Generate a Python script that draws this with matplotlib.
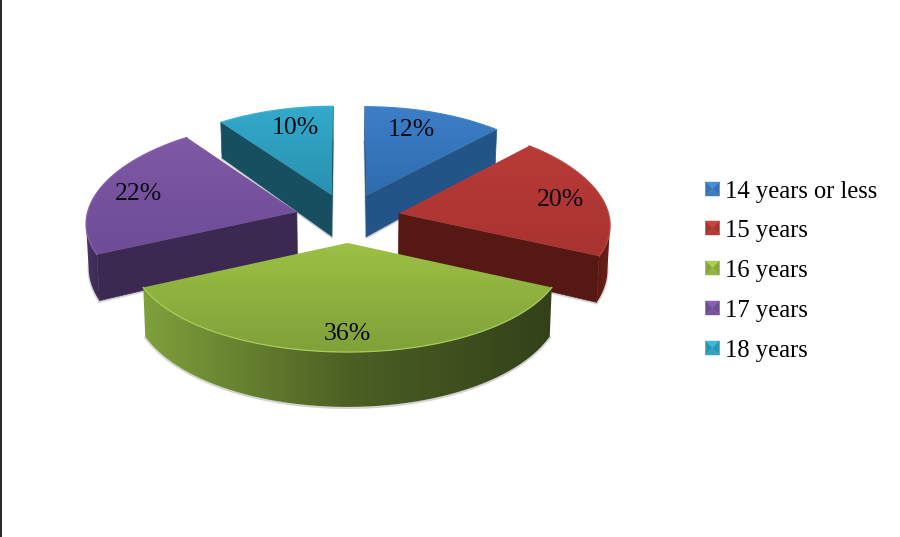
#!/usr/bin/env python3

import numpy as np
import matplotlib
import matplotlib.pyplot as plt
from matplotlib.colors import to_rgb, LinearSegmentedColormap
from matplotlib.patches import Polygon
matplotlib.use('Agg')

# chart data
categories = ['14 years or less', '15 years', '16 years', '17 years', '18 years']
shares = [12, 20, 36, 22, 10]

# colours per slice: top face (back, front), cut face, outer wall (left, mid, right), rim
top_back = ['#3c7ec8', '#b93b37', '#9cc144', '#7f58a6', '#33aacb']
top_front = ['#2f6cae', '#a83331', '#80a03a', '#6e4c96', '#2a90b0']
cut_col = ['#235487', '#551813', '#4c6024', '#3c2952', '#174f60']
wall_left = ['#2a5f98', '#5a1a14', '#80a03c', '#4a3267', '#1d6075']
wall_mid = ['#2a5f98', '#641e18', '#4c6024', '#40305a', '#1d6075']
wall_right = ['#2a5f98', '#6a201a', '#33411a', '#3c2952', '#1d6075']
rim_col = ['#4584cc', '#bd433f', '#a9cc58', '#8560ab', '#3fb2d0']
legend_col = ['#3f80c8', '#b93c38', '#98bb45', '#7c57a4', '#33a8c8']

# where the labels sit, in pixels
label_x = [411, 561, 347, 138, 295]
label_y = [129, 198, 333, 193, 127]
legend_y = [190, 229, 269, 309, 349]

# projection of the tilted pie
CX, CY = 347.5, 218
RX, RY = 210.5, 98
PERSP_X = 0.10
PERSP_Y = 0.069
EXPLODE = 0.25
DEPTH = 43


def project(u, v, drop=0.0):
    fx = 1 / (1 + PERSP_X * v)
    fy = 1 / (1 + PERSP_Y * v)
    return CX + RX * u * fx * (1 - 0.00023 * drop), CY - RY * v * fy + drop * fy ** 2.7


def gradient_fill(ax, xs, ys, colours, zorder, horizontal=False):
    cmap = LinearSegmentedColormap.from_list('g', [to_rgb(c) for c in colours])
    grad = np.linspace(0, 1, 256).reshape(-1, 1)
    if horizontal:
        grad = grad.T
    im = ax.imshow(grad, cmap=cmap, aspect='auto', zorder=zorder,
                   extent=[min(xs), max(xs), max(ys), min(ys)])
    poly = Polygon(np.column_stack([xs, ys]), closed=True, transform=ax.transData,
                   fc='none', ec='none')
    ax.add_patch(poly)
    im.set_clip_path(poly)


fig = plt.figure(figsize=(9, 5.37), dpi=100)
ax = fig.add_axes([0, 0, 1, 1])
ax.set_xlim(0, 900)
ax.set_ylim(537, 0)
ax.axis('off')

# left edge of the slide
ax.plot([0.6, 0.6], [0, 537], color='black', lw=1.2, zorder=1, clip_on=False)

# slice angles, clockwise from twelve o'clock
edges = np.cumsum([0] + shares) / sum(shares) * 2 * np.pi

# back slices first
mids = (edges[:-1] + edges[1:]) / 2
order = np.argsort(-np.cos(mids))

z = 2
for i in order:
    a0, a1 = edges[i], edges[i + 1]
    du, dv = EXPLODE * np.sin(mids[i]), EXPLODE * np.cos(mids[i])
    t = np.linspace(a0, a1, 160)
    rim_x, rim_y = project(du + np.sin(t), dv + np.cos(t))
    low_x, low_y = project(du + np.sin(t), dv + np.cos(t), DEPTH)
    apex_x, apex_y = project(du, dv)
    apex_lx, apex_ly = project(du, dv, DEPTH)

    # soft grey shadow round the underside
    ax.plot(np.r_[low_x, apex_lx, low_x[0]], np.r_[low_y, apex_ly, low_y[0]] + 1,
            color='#d4d4d4', lw=1.6, zorder=z)

    # the slices whose edge runs straight back leave a grey sliver beside them
    if abs(rim_x[0] - apex_x) < 1:
        ax.plot([apex_x - 1.5] * 2, [(rim_y[0] + apex_y) / 2, apex_ly], color='#b4b4b4', lw=1.2, zorder=z)
    if abs(rim_x[-1] - apex_x) < 1:
        ax.plot([apex_x + 1.5] * 2, [(rim_y[-1] + apex_y) / 2, apex_ly], color='#b4b4b4', lw=1.2, zorder=z)
    z += 1

    # radial cut faces, only the ones turned to the viewer
    if rim_x[0] < apex_x:
        ax.fill([apex_x, rim_x[0], low_x[0], apex_lx], [apex_y, rim_y[0], low_y[0], apex_ly],
                color=cut_col[i], lw=0.5, zorder=z)
    if rim_x[-1] > apex_x:
        ax.fill([apex_x, rim_x[-1], low_x[-1], apex_lx], [apex_y, rim_y[-1], low_y[-1], apex_ly],
                color=cut_col[i], lw=0.5, zorder=z)
    z += 1

    # outer wall, only where the arc runs right to left on screen
    vis = np.where(np.diff(rim_x) < 0)[0]
    if len(vis) > 1:
        idx = np.r_[vis, vis[-1] + 1]
        gradient_fill(ax, np.r_[rim_x[idx], low_x[idx][::-1]], np.r_[rim_y[idx], low_y[idx][::-1]],
                      [wall_left[i], wall_mid[i], wall_right[i]], z, horizontal=True)
    z += 1

    # top face with its soft gradient and a light rim
    gradient_fill(ax, np.r_[apex_x, rim_x], np.r_[apex_y, rim_y], [top_back[i], top_front[i]], z)
    ax.plot(rim_x, rim_y, color=rim_col[i], lw=0.9, zorder=z + 1)
    z += 2

# percent labels
for i, val in enumerate(shares):
    ax.text(label_x[i], label_y[i] + 1.5, f'{val}%', family='Liberation Serif', fontsize=18.5,
            color='#0a0a14', ha='center', va='center', zorder=z)

# legend with small bevelled keys
SIZE = 14
for i, name in enumerate(categories):
    y = legend_y[i]
    x0, x1 = 705.5, 705.5 + SIZE
    y0, y1 = y - SIZE / 2 - 1, y + SIZE / 2 - 1
    xc, yc = (x0 + x1) / 2, (y0 + y1) / 2
    base = np.array(to_rgb(legend_col[i]))
    ax.fill([x0, x1, xc], [y0, y0, yc], color=tuple(np.minimum(base * 1.12, 1)), lw=0.3, zorder=z)
    ax.fill([x0, xc, x0], [y0, yc, y1], color=tuple(base * 0.88), lw=0.3, zorder=z)
    ax.fill([x1, xc, x1], [y0, yc, y1], color=tuple(base * 0.88), lw=0.3, zorder=z)
    ax.fill([x0, x1, xc], [y1, y1, yc], color=tuple(base * 0.97), lw=0.3, zorder=z)
    ax.text(725, y + 2, name, family='Liberation Serif', fontsize=17.7, color='black',
            ha='left', va='center', zorder=z)

ax.set_xlim(0, 900)
ax.set_ylim(537, 0)
fig.savefig('out.png', dpi=100, facecolor='white')
